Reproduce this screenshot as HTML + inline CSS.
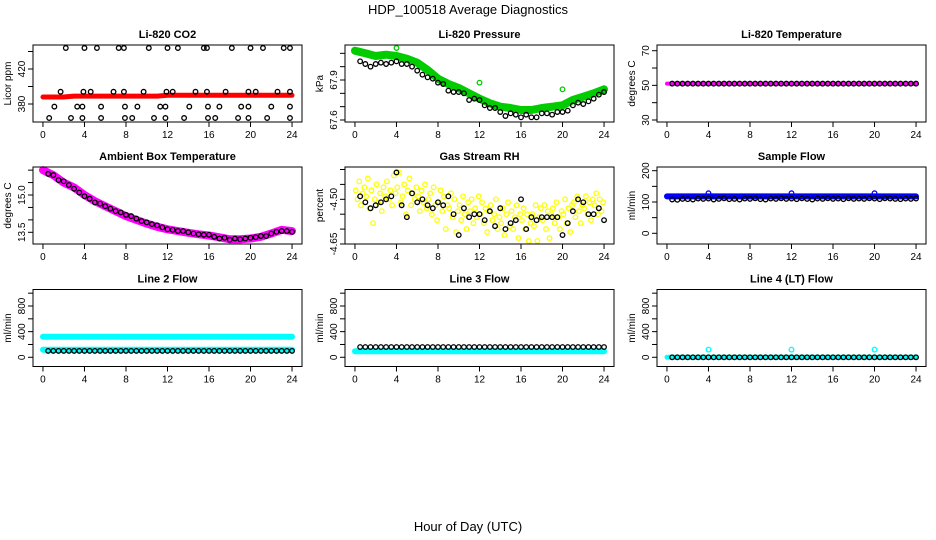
<!DOCTYPE html>
<html><head><meta charset="utf-8"><style>
html,body{margin:0;padding:0;background:#fff;}
svg{display:block;font-family:"Liberation Sans",Arial,sans-serif;}
</style></head><body>
<svg id="chart" width="936" height="540" viewBox="0 0 936 540">
<text x="468" y="14" text-anchor="middle" font-size="13">HDP_100518  Average Diagnostics</text>
<text x="468" y="531" text-anchor="middle" font-size="13">Hour of Day (UTC)</text>
</svg>
<script>
// ---- data ----
const hourly = [0,1,2,3,4,5,6,7,8,9,10,11,12,13,14,15,16,17,18,19,20,21,22,23,24];
const halfHours = [0.5,1,1.5,2,2.5,3,3.5,4,4.5,5,5.5,6,6.5,7,7.5,8,8.5,9,9.5,10,10.5,11,11.5,12,12.5,13,13.5,14,14.5,15,15.5,16,16.5,17,17.5,18,18.5,19,19.5,20,20.5,21,21.5,22,22.5,23,23.5,24];
const xTicks = [0,4,8,12,16,20,24];

const co2Red = [388,388,388,389,389,389,389,389,389,389,389,389,390,390,390,390,390,390,390,390,390,390,390,390,390];
const co2TopHours = [2.2,4,5.2,7.3,7.8,10.2,12,13,15.5,15.8,18.2,20,21.2,23.2,23.8];
const co2HighHours = [1.7,3.9,4.6,6.8,7.8,9.7,11.9,12.5,14.7,15.8,17.6,19.8,20.5,22.6,23.8];
const co2MidHours = [1.1,3.3,3.8,5.6,7.9,9.1,11.3,11.8,14.1,15.9,17,19.1,19.8,22,23.8];
const co2LowHours = [0.6,2.7,3.8,5.6,7.9,8.6,10.7,11.8,13.6,15.9,16.6,18.8,19.8,21.6,23.8];
const co2Levels = [444,394,377,364];

const pressGreen = [68.12,68.10,68.08,68.09,68.08,68.06,68.03,67.975,67.91,67.87,67.84,67.80,67.76,67.725,67.70,67.69,67.675,67.675,67.69,67.70,67.71,67.75,67.775,67.80,67.83];
const pressBlack = [68.04,68.02,68.00,68.02,68.03,68.02,68.03,68.04,68.02,68.02,68.00,67.97,67.94,67.92,67.91,67.88,67.87,67.82,67.81,67.81,67.80,67.75,67.76,67.75,67.71,67.69,67.69,67.66,67.63,67.65,67.64,67.62,67.64,67.62,67.62,67.65,67.65,67.64,67.66,67.66,67.67,67.71,67.73,67.72,67.74,67.76,67.79,67.81];

const liTempMagenta = [51,51,51,51,51,51,51,51,51,51,51,51,51,51,51,51,51,51,51,51,51,51,51,51,51];
const liTempBlack = [51,51,51,51,51,51,51,51,51,51,51,51,51,51,51,51,51,51,51,51,51,51,51,51,51,51,51,51,51,51,51,51,51,51,51,51,51,51,51,51,51,51,51,51,51,51,51,51];

const ambMagenta = [16.0,15.8,15.5,15.3,15.0,14.75,14.55,14.35,14.15,14.0,13.85,13.72,13.62,13.55,13.48,13.42,13.37,13.3,13.22,13.22,13.25,13.32,13.45,13.6,13.55];
const ambBlack = [15.85,15.8,15.6,15.55,15.4,15.25,15.1,14.95,14.85,14.7,14.65,14.55,14.45,14.35,14.3,14.2,14.15,14.05,13.95,13.9,13.83,13.78,13.7,13.62,13.6,13.55,13.55,13.5,13.45,13.42,13.4,13.4,13.32,13.25,13.28,13.2,13.25,13.22,13.25,13.28,13.3,13.35,13.35,13.45,13.52,13.55,13.55,13.52];

const rhYellow = [-4.47,-4.50,-4.44,-4.52,-4.48,-4.46,-4.49,-4.43,-4.53,-4.47,-4.58,-4.50,-4.45,-4.51,-4.48,-4.54,-4.46,-4.49,-4.44,-4.50,-4.47,-4.52,-4.42,-4.48,-4.46,-4.41,-4.51,-4.49,-4.45,-4.55,-4.47,-4.43,-4.52,-4.48,-4.50,-4.46,-4.49,-4.54,-4.47,-4.51,-4.45,-4.53,-4.50,-4.48,-4.55,-4.46,-4.52,-4.57,-4.51,-4.47,-4.54,-4.49,-4.60,-4.52,-4.53,-4.48,-4.56,-4.50,-4.61,-4.54,-4.52,-4.57,-4.49,-4.55,-4.60,-4.51,-4.54,-4.50,-4.58,-4.53,-4.56,-4.49,-4.55,-4.51,-4.58,-4.53,-4.61,-4.54,-4.52,-4.57,-4.55,-4.50,-4.60,-4.56,-4.58,-4.53,-4.62,-4.55,-4.51,-4.59,-4.54,-4.60,-4.56,-4.52,-4.63,-4.55,-4.57,-4.53,-4.60,-4.55,-4.64,-4.58,-4.55,-4.59,-4.52,-4.64,-4.56,-4.53,-4.57,-4.52,-4.60,-4.54,-4.63,-4.55,-4.53,-4.58,-4.51,-4.56,-4.60,-4.54,-4.55,-4.50,-4.58,-4.53,-4.61,-4.52,-4.51,-4.56,-4.49,-4.54,-4.58,-4.52,-4.53,-4.49,-4.55,-4.51,-4.57,-4.50,-4.52,-4.48,-4.55,-4.50,-4.54,-4.51];
const rhBlack = [-4.49,-4.51,-4.53,-4.52,-4.51,-4.50,-4.49,-4.41,-4.52,-4.56,-4.48,-4.51,-4.50,-4.52,-4.53,-4.51,-4.52,-4.49,-4.55,-4.62,-4.53,-4.56,-4.55,-4.55,-4.57,-4.54,-4.59,-4.53,-4.60,-4.58,-4.57,-4.50,-4.60,-4.56,-4.57,-4.56,-4.56,-4.56,-4.56,-4.62,-4.58,-4.54,-4.50,-4.51,-4.55,-4.55,-4.53,-4.57];

const sampleBlue = [118,118,118,118,118,118,118,118,118,118,118,118,118,118,118,118,118,118,118,118,118,118,118,118,118];
const sampleBlueSpikeHours = [4,12,20];
const sampleBlueSpikes = [128,128,128];
const sampleBlack = [108,107,110,109,108,111,110,111,108,110,112,109,110,108,111,110,112,109,108,111,110,112,110,111,109,112,110,108,111,110,112,110,111,109,112,110,111,110,112,111,109,112,111,110,109,111,110,111];

const line2CyanHigh = [322,322,322,322,322,322,322,322,322,322,322,322,322,322,322,322,322,322,322,322,322,322,322,322,322];
const line2CyanLow = [118,118,118,118,118,118,118,118,118,118,118,118,118,118,118,118,118,118,118,118,118,118,118,118,118];
const line2Black = [100,100,100,100,100,100,100,100,100,100,100,100,100,100,100,100,100,100,100,100,100,100,100,100,100,100,100,100,100,100,100,100,100,100,100,100,100,100,100,100,100,100,100,100,100,100,100,100];

const line3Cyan = [95,95,95,95,95,95,95,95,95,95,95,95,95,95,95,95,95,95,95,95,95,95,95,95,95];
const line3Black = [160,160,160,160,160,160,160,160,160,160,160,160,160,160,160,160,160,160,160,160,160,160,160,160,160,160,160,160,160,160,160,160,160,160,160,160,160,160,160,160,160,160,160,160,160,160,160,160];

const line4Cyan = [0,0,0,0,0,0,0,0,0,0,0,0,0,0,0,0,0,0,0,0,0,0,0,0,0];
const line4SpikeHours = [4,12,20];
const line4Spikes = [120,120,120];
const line4Black = [0,0,0,0,0,0,0,0,0,0,0,0,0,0,0,0,0,0,0,0,0,0,0,0,0,0,0,0,0,0,0,0,0,0,0,0,0,0,0,0,0,0,0,0,0,0,0,0];

// ---- drawing ----
const svg = document.getElementById('chart');
const NS = 'http://www.w3.org/2000/svg';
function mk(tag, attrs, parent){
  const e = document.createElementNS(NS, tag);
  for (const k in attrs) e.setAttribute(k, attrs[k]);
  (parent || svg).appendChild(e);
  return e;
}
const colLeft = [33, 345, 657];
const rowTop = [45, 167, 289.5];
const W = 269, H = 77;

function makePanel(col, row, title, ylab, yMap, yTicks, yLabels, name){
  const L = colLeft[col], T = rowTop[row];
  const g = mk('g', {});
  
  
  const x = h => L + 9.96 + h * (W - 19.92) / 24;
  const y = v => yMap[1] + (v - yMap[0]) * (yMap[3] - yMap[1]) / (yMap[2] - yMap[0]);
  const plot = mk('g', {}, g);
  
  
  const box = mk('rect', {x:L, y:T, width:W, height:H, fill:'none', stroke:'#000', 'stroke-width':1}, g);
  
  
  const t = mk('text', {x:L + W/2, y:T - 7, 'text-anchor':'middle', 'font-size':11, 'font-weight':'bold'}, g);
  t.textContent = title;
  
  
  const yl = mk('text', {transform:`translate(${L-22},${T+H/2}) rotate(-90)`, 'text-anchor':'middle', 'font-size':10}, g);
  yl.textContent = ylab;
  
  
  xTicks.forEach(h => {
    mk('line', {x1:x(h), x2:x(h), y1:T+H, y2:T+H+5, stroke:'#000'}, g);
    const tl = mk('text', {x:x(h), y:T+H+16, 'text-anchor':'middle', 'font-size':10}, g);
    tl.textContent = h;
    
    
  });
  yTicks.forEach(v => {
    mk('line', {x1:L-5, x2:L, y1:y(v), y2:y(v), stroke:'#000'}, g);
  });
  yLabels.forEach(v => {
    const tl = mk('text', {transform:`translate(${L-8},${y(v)}) rotate(-90)`, 'text-anchor':'middle', 'font-size':10}, g);
    tl.textContent = v;
    
    
  });
  return {g: plot, x, y};
}
function band(p, hrs, vals, color, w, name){
  const pts = hrs.map((h,i) => p.x(h).toFixed(1) + ',' + p.y(vals[i]).toFixed(1)).join(' ');
  const pl = mk('polyline', {points:pts, fill:'none', stroke:color, 'stroke-width':w, 'stroke-linejoin':'round', 'stroke-linecap':'round'}, p.g);
  
  
}
function dots(p, hrs, vals, color, name, r){
  hrs.forEach((h,i) => {
    const c = mk('circle', {cx:p.x(h), cy:p.y(vals[i]), r:r||2.3, fill:'none', stroke:color, 'stroke-width':1.3}, p.g);
    
    
  });
}

// CO2
let p = makePanel(0,0,'Li-820 CO2','Licor ppm',[380,104,420,69],[380,400,420,440],[380,420],'co2');
band(p, hourly, co2Red, '#ff0000', 5, 'co2-red-series');
[co2TopHours,co2HighHours,co2MidHours,co2LowHours].forEach((hrs,k)=> dots(p, hrs, hrs.map(()=>co2Levels[k]), '#000', 'co2-point'));

// Pressure
p = makePanel(1,0,'Li-820 Pressure','kPa',[67.6,120,67.9,80],[67.6,67.7,67.8,67.9,68.0,68.1],[67.6,67.9],'pressure');
band(p, hourly, pressGreen, '#00cc00', 8, 'pressure-green-series');
dots(p, [4,12,20], [68.14,67.88,67.83], '#00cc00', 'pressure-green-outlier');
dots(p, halfHours, pressBlack, '#000', 'pressure-point');

// Li temp
p = makePanel(2,0,'Li-820 Temperature','degrees C',[30,120,70,50.7],[30,40,50,60,70],[30,50,70],'li-temp');
band(p, hourly, liTempMagenta, '#ff00ff', 4, 'li-temp-magenta-series');
dots(p, halfHours, liTempBlack, '#000', 'li-temp-point');

// Ambient
p = makePanel(0,1,'Ambient Box Temperature','degrees C',[13.5,232.3,15.0,195],[13.5,14.0,14.5,15.0,15.5,16.0],[13.5,'15.0'],'ambient');
band(p, hourly, ambMagenta, '#ff00ff', 8, 'ambient-magenta-series');
dots(p, halfHours, ambBlack, '#000', 'ambient-point');

// RH
p = makePanel(1,1,'Gas Stream RH','percent',[-4.65,244,-4.50,199.3],[-4.65,-4.60,-4.55,-4.50,-4.45,-4.40],['-4.65','-4.50'],'rh');
const rhHours = rhYellow.map((v,i) => i/6 + 0.08);
dots(p, rhHours, rhYellow, '#ffff00', 'rh-yellow-point');
dots(p, halfHours, rhBlack, '#000', 'rh-point');

// Sample flow
p = makePanel(2,1,'Sample Flow','ml/min',[0,233.3,200,170.7],[0,50,100,150,200],[0,100,200],'sample-flow');
band(p, hourly, sampleBlue, '#0000ff', 6, 'sample-flow-blue-series');
dots(p, sampleBlueSpikeHours, sampleBlueSpikes, '#0000ff', 'sample-flow-blue-spike');
dots(p, halfHours, sampleBlack, '#000', 'sample-flow-point');

// Line 2
p = makePanel(0,2,'Line 2 Flow','ml/min',[0,357.3,800,306],[0,200,400,600,800,1000],[0,400,800],'line2');
band(p, hourly, line2CyanHigh, '#00ffff', 6, 'line2-cyan-high-series');
band(p, hourly, line2CyanLow, '#00ffff', 6, 'line2-cyan-low-series');
dots(p, halfHours, line2Black, '#000', 'line2-point');

// Line 3
p = makePanel(1,2,'Line 3 Flow','ml/min',[0,357.3,800,306],[0,200,400,600,800,1000],[0,400,800],'line3');
band(p, hourly, line3Cyan, '#00ffff', 6, 'line3-cyan-series');
dots(p, halfHours, line3Black, '#000', 'line3-point');

// Line 4
p = makePanel(2,2,'Line 4 (LT) Flow','ml/min',[0,357.3,800,306],[0,200,400,600,800,1000],[0,400,800],'line4');
band(p, hourly, line4Cyan, '#00ffff', 5, 'line4-cyan-series');
dots(p, line4SpikeHours, line4Spikes, '#00ffff', 'line4-cyan-spike');
dots(p, halfHours, line4Black, '#000', 'line4-point');
</script>
</body></html>
